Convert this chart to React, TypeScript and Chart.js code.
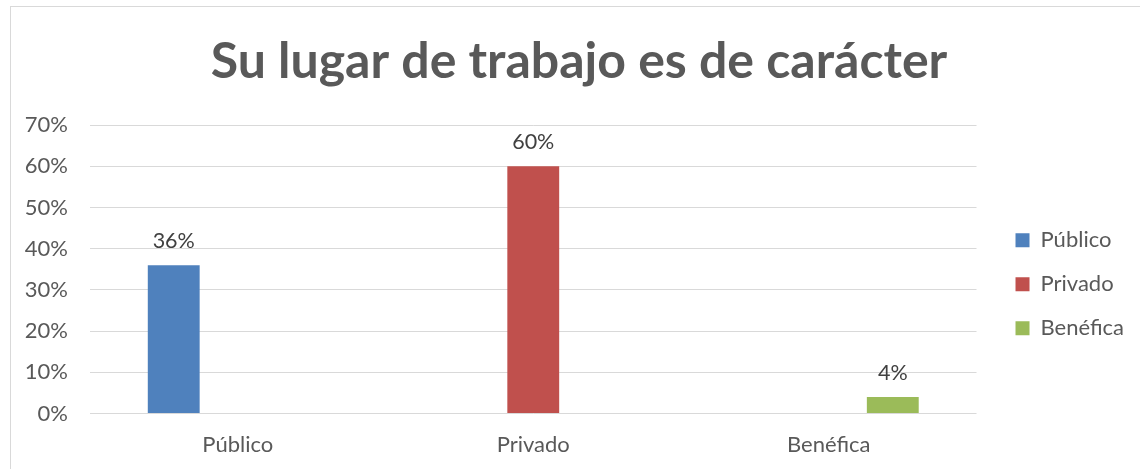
import React, { useEffect, useRef } from "react";
import { Chart, registerables } from "chart.js";

Chart.register(...registerables);

const chartTitle = "Su lugar de trabajo es de carácter";
const categories = ["Público", "Privado", "Benéfica"];
const seriesNames = ["Público", "Privado", "Benéfica"];
const publicoValues = [36, null, null];
const privadoValues = [null, 60, null];
const beneficaValues = [null, null, 4];
const seriesColors = ["#4F81BD", "#C0504D", "#9BBB59"];
const yMin = 0;
const yMax = 70;
const yStep = 10;

const FONT = "Lato, 'Open Sans', 'DejaVu Sans', sans-serif";
const TEXT = "#595959";

const dataLabelPlugin = {
  id: "dataLabels",
  afterDatasetsDraw(chart: any) {
    const ctx = chart.ctx;
    ctx.save();
    ctx.font = `21.5px ${FONT}`;
    ctx.fillStyle = "#404040";
    ctx.textAlign = "center";
    ctx.textBaseline = "middle";
    chart.data.datasets.forEach((ds: any, i: number) => {
      const meta = chart.getDatasetMeta(i);
      meta.data.forEach((el: any, j: number) => {
        const v = ds.data[j];
        if (v === null || v === undefined) return;
        ctx.fillText(`${v}%`, el.x, el.y - 24);
      });
    });
    ctx.restore();
  },
};

export default function App() {
  const ref = useRef<HTMLCanvasElement | null>(null);

  useEffect(() => {
    document.body.style.overflow = "hidden";
    const canvas = ref.current;
    if (!canvas) return;
    const allSeries = [publicoValues, privadoValues, beneficaValues];
    const chart = new Chart(canvas, {
      type: "bar",
      data: {
        labels: categories,
        datasets: allSeries.map((vals, i) => ({
          label: seriesNames[i],
          data: vals,
          backgroundColor: seriesColors[i],
          borderWidth: 0,
          categoryPercentage: 0.65,
          barPercentage: 0.81,
        })),
      },
      options: {
        responsive: false,
        animation: false,
        devicePixelRatio: 1,
        layout: { padding: { left: 24, right: 6, top: 0, bottom: 1 } },
        plugins: {
          title: {
            display: true,
            text: chartTitle,
            color: TEXT,
            font: { family: FONT, size: 50, weight: "bold" },
            padding: { top: 32, bottom: 33 },
          },
          legend: {
            position: "right",
            title: { display: true, text: "", font: { size: 12 }, padding: { top: 86, bottom: 0 } },
            labels: {
              boxWidth: 14,
              boxHeight: 14,
              padding: 22,
              color: TEXT,
              font: { family: FONT, size: 22 },
            },
          },
          tooltip: { enabled: false },
        },
        scales: {
          x: {
            grid: { display: false },
            border: { display: false },
            ticks: { color: TEXT, font: { family: FONT, size: 22 }, padding: 10 },
          },
          y: {
            min: yMin,
            max: yMax,
            afterFit: (scale: any) => {
              scale.width = 66;
            },
            ticks: {
              stepSize: yStep,
              color: TEXT,
              font: { family: FONT, size: 22 },
              padding: 22,
              callback: (v: any) => `${v}%`,
            },
            grid: { color: "#D9D9D9", drawTicks: false, lineWidth: 1 },
            border: { display: false },
          },
          gap: {
            type: "linear",
            position: "right",
            display: true,
            afterFit: (scale: any) => {
              scale.width = 17;
            },
            ticks: { display: false },
            grid: { display: false, drawTicks: false },
            border: { display: false },
          },
        },
      },
      plugins: [dataLabelPlugin],
    });
    return () => chart.destroy();
  }, []);

  return (
    <div
      style={{
        position: "fixed",
        left: 0,
        top: 0,
        width: 1140,
        height: 469,
        overflow: "hidden",
        background: "#fff",
      }}
    >
      <canvas ref={ref} width={1140} height={469} style={{ position: "absolute", left: 0, top: 0 }} />
      <div
        style={{
          position: "absolute",
          left: 10,
          top: 6,
          width: 1140,
          height: 470,
          border: "1px solid #D9D9D9",
          pointerEvents: "none",
          boxSizing: "border-box",
        }}
      />
    </div>
  );
}
